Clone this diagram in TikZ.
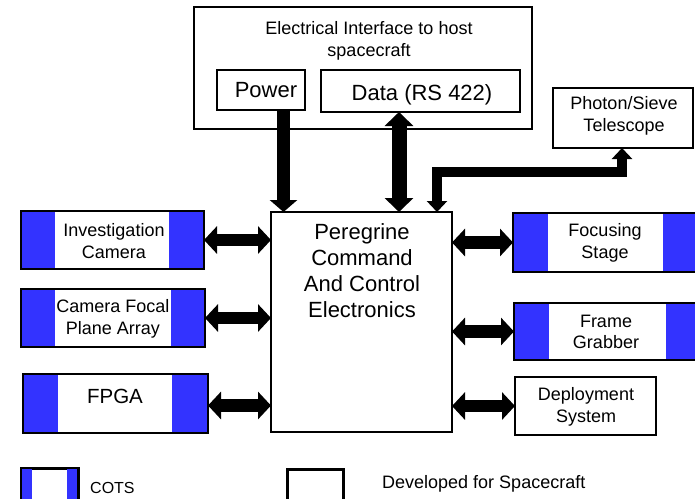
\documentclass[tikz,border=0pt]{standalone}
\usepackage{fontspec}
\setmainfont{Liberation Sans}
\usetikzlibrary{arrows.meta}
\definecolor{cblue}{RGB}{51,51,255}
\newcommand\fsz[2]{\fontsize{#1}{#2}\selectfont}
\newcommand\cotsstrips[3]{%
  \fill[cblue] (#1.north west) rectangle ([xshift=#2]#1.south west);
  \fill[cblue] ([xshift=-#3]#1.north east) rectangle (#1.south east);
  \draw[line width=2.7] (#1.north west) rectangle (#1.south east);}
\tikzset{
  box/.style={draw, line width=2.5, fill=white, inner sep=0pt, outer sep=0pt, anchor=north west, align=center, font=\fsz{18}{21.5}},
  bigarrow/.style={line width=12.5, {Triangle[width=27pt,length=13pt]}-{Triangle[width=27pt,length=13pt]}},
  downarrow/.style={line width=13, -{Triangle[width=27pt,length=12pt]}},
  dataarrow/.style={line width=15, {Triangle[width=28pt,length=14pt]}-{Triangle[width=28pt,length=14pt]}},
  telarrow/.style={line width=10, line join=miter, {Triangle[width=20pt,length=11pt]}-{Triangle[width=20pt,length=11pt]}},
  txt/.style={inner sep=0pt, align=center}
}
\begin{document}
\begin{tikzpicture}[x=1pt,y=-1pt]
\useasboundingbox (0,0) rectangle (695,498);
\fill[white] (0,0) rectangle (695,498);
\clip (0,0) rectangle (695,498);

% top interface
\node[box, minimum width=338, minimum height=122] (iface) at (194,7) {};
\node[txt, font=\fsz{18}{21.5}] (ifacetext) at (369,41) {Electrical Interface to host\\spacecraft};
\node[box, minimum width=88, minimum height=40] (power) at (217,70) {};
\node[txt, font=\fsz{22}{26}] (powertext) at (266,90) {Power};
\node[box, minimum width=199, minimum height=42] (data) at (321,70) {};
\node[txt, font=\fsz{22}{26}] (datatext) at (422,95) {Data (RS 422)};

% telescope
\node[box, minimum width=140, minimum height=60] (tel) at (553,88) {};
\node[txt, font=\fsz{18}{21.5}] (teltext) at (624,116) {Photon/Sieve\\Telescope};

% main
\node[box, line width=2.2, minimum width=181, minimum height=220] (main) at (271,212) {};
\node[txt, font=\fsz{22}{26}, anchor=north] (maintext) at (362,223) {Peregrine\\Command\\And Control\\Electronics};

% left COTS boxes
\node[box, minimum width=183, minimum height=58] (ic) at (21,211) {};
\cotsstrips{ic}{34pt}{35pt}
\node[txt, font=\fsz{18}{21.5}] (ictext) at (114,241) {Investigation\\Camera};
\node[box, minimum width=184, minimum height=58] (cfpa) at (21,289) {};
\cotsstrips{cfpa}{34pt}{34pt}
\node[txt, font=\fsz{18}{21.5}] (cfpatext) at (113,319) {Camera Focal\\Plane Array};
\node[box, minimum width=185, minimum height=59] (fpga) at (23,374) {};
\cotsstrips{fpga}{35pt}{36pt}
\node[txt, font=\fsz{20.5}{24}] (fpgatext) at (115,396) {FPGA};

% right boxes
\node[box, minimum width=200, minimum height=59] (fs) at (513,213) {};
\cotsstrips{fs}{35pt}{50pt}
\node[txt, font=\fsz{18}{21.5}] (fstext) at (605,243) {Focusing\\Stage};
\node[box, minimum width=200, minimum height=57] (fg) at (514,303) {};
\cotsstrips{fg}{35pt}{48pt}
\node[txt, font=\fsz{18}{21.5}] (fgtext) at (606,332) {Frame\\Grabber};
\node[box, minimum width=141, minimum height=58] (ds) at (515,377) {};
\node[txt, font=\fsz{18}{21.5}] (dstext) at (586,407) {Deployment\\System};

% arrows
\draw[downarrow] ([xshift=22.5pt]power.south) -- ([xshift=22.5pt]power.south |- main.north);
\draw[dataarrow] ([xshift=-21.5pt]data.south) -- ([xshift=-21.5pt]data.south |- main.north);
\coordinate (bend) at (0,172);
\draw[telarrow] ([xshift=75.5pt]main.north) |- ([xshift=-1pt]tel.south |- bend) -- ([xshift=-1pt]tel.south);

\draw[bigarrow] (ic.east) -- (ic.east -| main.west);
\draw[bigarrow] (cfpa.east) -- (cfpa.east -| main.west);
\draw[bigarrow] ([yshift=-2pt]fpga.east) -- ([yshift=-2pt]fpga.east -| main.west);
\draw[bigarrow] (fs.west -| main.east) -- (fs.west);
\draw[bigarrow] (fg.west -| main.east) -- (fg.west);
\draw[bigarrow] (ds.west -| main.east) -- (ds.west);

% legend
\node[box, line width=3, minimum width=57, minimum height=36] (cotsleg) at (21,468) {};
\cotsstrips{cotsleg}{11pt}{11pt}
\node[txt, font=\fsz{16}{19}, anchor=west] (cotstext) at (90,488) {COTS};
\node[box, line width=3, minimum width=56, minimum height=36] (devleg) at (287,469) {};
\node[txt, font=\fsz{18}{21.5}, anchor=west] (devtext) at (382,484) {Developed for Spacecraft};
\end{tikzpicture}
\end{document}
